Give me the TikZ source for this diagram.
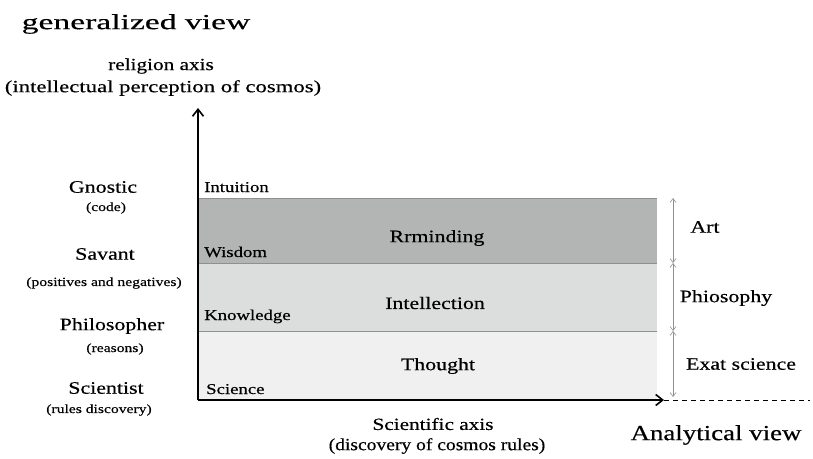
\documentclass[tikz,border=0pt]{standalone}
\usepackage{fontspec}
\setmainfont[FakeStretch=1.25,FakeBold=0.4]{Liberation Serif}
\usetikzlibrary{arrows.meta}
\definecolor{bandA}{HTML}{B3B5B5}
\definecolor{bandB}{HTML}{DCDDDD}
\definecolor{bandC}{HTML}{F0F0F0}
\definecolor{lineG}{HTML}{8E9090}
\begin{document}
\begin{tikzpicture}[x=1pt,y=-1pt,
  big/.style={font=\fontsize{21.5}{24}\selectfont, inner sep=0pt},
  mid/.style={font=\fontsize{17.5}{20}\selectfont, inner sep=0pt},
  axl/.style={font=\fontsize{17}{20}\selectfont, inner sep=0pt},
  lvl/.style={font=\fontsize{15}{18}\selectfont, inner sep=0pt, anchor=base west},
  sml/.style={font=\fontsize{12.5}{15}\selectfont, inner sep=0pt},
  axis/.style={line width=2pt, -{Straight Barb[length=7pt,width=11pt,line width=1.6pt]}},
  band/.style={draw=lineG, line width=0.6pt},
  rarr/.style={lineG, line width=0.6pt, {Straight Barb[length=4pt,width=6pt]}-{Straight Barb[length=4pt,width=6pt]}}]
\useasboundingbox (0,0) rectangle (813,458);
% bands
\fill[bandA] (198,198) rectangle (657,263);
\fill[bandB] (198,263) rectangle (657,331);
\fill[bandC] (198,331) rectangle (657,400);
\draw[band] (198,198) -- (657,198);
\draw[band] (198,263) -- (657,263);
\draw[band] (198,331) -- (657,331);
% axes
\coordinate (O) at (198,400);
\coordinate (Ytip) at (198,108);
\coordinate (Xtip) at (664,400);
\coordinate (Dend) at (810,400);
\draw[axis] (O) -- (Ytip);
\draw[axis] (O) -- (Xtip);
\draw[line width=0.7pt, dash pattern=on 5pt off 4pt] (Xtip) -- (Dend);
% right arrows
\coordinate (R1) at (673,198);
\coordinate (R2) at (673,263);
\coordinate (R3) at (673,331);
\coordinate (R4) at (673,397);
\draw[rarr] (R1) -- (R2);
\draw[rarr] (R2) -- (R3);
\draw[rarr] (R3) -- (R4);
% band labels
\node[mid] (rr) at (437,238) {Rrminding};
\node[mid] (in) at (435,303) {Intellection};
\node[mid] (th) at (438,366) {Thought};
\node[mid] (art) at (705,227) {Art};
\node[mid] (phi) at (726,298) {Phiosophy};
\node[mid] (exs) at (741,364) {Exat science};
% level labels
\node[lvl] (intu) at (204,192) {Intuition};
\node[lvl] (wis) at (204,257) {Wisdom};
\node[lvl] (kno) at (204,320) {Knowledge};
\node[lvl] (sci) at (206,394) {Science};
% left labels
\node[mid] (gn) at (103,187) {Gnostic};
\node[sml] (gnc) at (106,208) {(code)};
\node[mid] (sav) at (105,254) {Savant};
\node[sml] (savc) at (104,283) {(positives and negatives)};
\node[mid] (phil) at (112,326) {Philosopher};
\node[sml] (philc) at (115,349) {(reasons)};
\node[mid] (scit) at (106,388) {Scientist};
\node[sml] (scic) at (99,410) {(rules discovery)};
% top
\node[big] (gv) at (136,24) {\scalebox{1.25}[1]{generalized view}};
\node[axl] (rel) at (161,66) {religion axis};
\node[axl] (relc) at (163,88) {\scalebox{1.07}[1]{(intellectual perception of cosmos)}};
% bottom
\node[axl] (sa) at (433,424) {Scientific axis};
\node[axl] (sac) at (437,446) {\scalebox{0.92}[1]{(discovery of cosmos rules)}};
\node[big] (av) at (716,435) {Analytical view};
\end{tikzpicture}
\end{document}
